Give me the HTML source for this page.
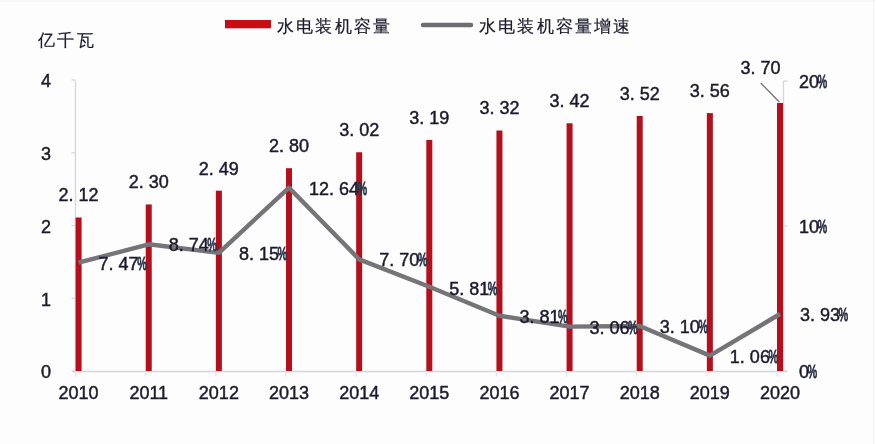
<!DOCTYPE html>
<html><head><meta charset="utf-8"><style>
html,body{margin:0;padding:0;background:#fdfdfe;}
svg{display:block;filter:blur(0.35px);}
.pc{fill:#2a3448;stroke:#2a3448;stroke-width:1px;}
</style></head><body>
<svg width="876" height="444" viewBox="0 0 876 444">
<rect x="0" y="0" width="876" height="444" fill="#fdfdfe"/>
<line x1="0" y1="1" x2="876" y2="1" stroke="#f0f0f2" stroke-width="1"/>
<line x1="873.5" y1="0" x2="873.5" y2="444" stroke="#f4f4f6" stroke-width="1"/>
<line x1="75.5" y1="80.5" x2="75.5" y2="371.5" stroke="#d6d6da" stroke-width="1.3"/>
<line x1="71.5" y1="371.0" x2="75.5" y2="371.0" stroke="#d6d6da" stroke-width="1.3"/>
<line x1="71.5" y1="298.2" x2="75.5" y2="298.2" stroke="#d6d6da" stroke-width="1.3"/>
<line x1="71.5" y1="225.5" x2="75.5" y2="225.5" stroke="#d6d6da" stroke-width="1.3"/>
<line x1="71.5" y1="152.8" x2="75.5" y2="152.8" stroke="#d6d6da" stroke-width="1.3"/>
<line x1="71.5" y1="80.0" x2="75.5" y2="80.0" stroke="#d6d6da" stroke-width="1.3"/>
<line x1="783.5" y1="80.8" x2="783.5" y2="371.5" stroke="#d6d6da" stroke-width="1.3"/>
<line x1="783.5" y1="371.0" x2="787.5" y2="371.0" stroke="#d6d6da" stroke-width="1.3"/>
<line x1="783.5" y1="226.0" x2="787.5" y2="226.0" stroke="#d6d6da" stroke-width="1.3"/>
<line x1="783.5" y1="81.0" x2="787.5" y2="81.0" stroke="#d6d6da" stroke-width="1.3"/>
<line x1="72" y1="371.5" x2="787" y2="371.5" stroke="#d6d6da" stroke-width="1.5"/>
<line x1="75.6" y1="371.5" x2="75.6" y2="376.5" stroke="#e2e2e6" stroke-width="1.2"/>
<line x1="145.7" y1="371.5" x2="145.7" y2="376.5" stroke="#e2e2e6" stroke-width="1.2"/>
<line x1="215.9" y1="371.5" x2="215.9" y2="376.5" stroke="#e2e2e6" stroke-width="1.2"/>
<line x1="286.0" y1="371.5" x2="286.0" y2="376.5" stroke="#e2e2e6" stroke-width="1.2"/>
<line x1="356.2" y1="371.5" x2="356.2" y2="376.5" stroke="#e2e2e6" stroke-width="1.2"/>
<line x1="426.3" y1="371.5" x2="426.3" y2="376.5" stroke="#e2e2e6" stroke-width="1.2"/>
<line x1="496.4" y1="371.5" x2="496.4" y2="376.5" stroke="#e2e2e6" stroke-width="1.2"/>
<line x1="566.6" y1="371.5" x2="566.6" y2="376.5" stroke="#e2e2e6" stroke-width="1.2"/>
<line x1="636.7" y1="371.5" x2="636.7" y2="376.5" stroke="#e2e2e6" stroke-width="1.2"/>
<line x1="706.9" y1="371.5" x2="706.9" y2="376.5" stroke="#e2e2e6" stroke-width="1.2"/>
<line x1="777.0" y1="371.5" x2="777.0" y2="376.5" stroke="#e2e2e6" stroke-width="1.2"/>
<rect x="75.60" y="217.50" width="6.0" height="153.50" fill="#b50f1c"/>
<rect x="145.74" y="204.45" width="6.0" height="166.55" fill="#b50f1c"/>
<rect x="215.88" y="190.67" width="6.0" height="180.33" fill="#b50f1c"/>
<rect x="286.02" y="168.20" width="6.0" height="202.80" fill="#b50f1c"/>
<rect x="356.16" y="152.25" width="6.0" height="218.75" fill="#b50f1c"/>
<rect x="426.30" y="139.92" width="6.0" height="231.08" fill="#b50f1c"/>
<rect x="496.44" y="130.50" width="6.0" height="240.50" fill="#b50f1c"/>
<rect x="566.58" y="123.25" width="6.0" height="247.75" fill="#b50f1c"/>
<rect x="636.72" y="116.00" width="6.0" height="255.00" fill="#b50f1c"/>
<rect x="706.86" y="113.10" width="6.0" height="257.90" fill="#b50f1c"/>
<rect x="777.00" y="102.95" width="6.0" height="268.05" fill="#b50f1c"/>
<polyline points="78.60,262.69 148.74,244.27 218.88,252.82 289.02,187.72 359.16,259.35 429.30,286.75 499.44,315.75 569.58,326.63 639.72,326.05 709.86,355.63 780.00,314.01" fill="none" stroke="#767379" stroke-width="4.4" stroke-linejoin="round"/>
<line x1="760.8" y1="83.1" x2="779.3" y2="102" stroke="#7a7a7e" stroke-width="1.4"/>
<g font-family="Liberation Sans, sans-serif" font-size="18" fill="#1b1a2c" stroke="#1b1a2c" stroke-width="0.45">
<text x="78.60" y="201.40" text-anchor="middle" xml:space="preserve">2. 12</text>
<text x="148.74" y="188.35" text-anchor="middle" xml:space="preserve">2. 30</text>
<text x="218.88" y="174.57" text-anchor="middle" xml:space="preserve">2. 49</text>
<text x="289.02" y="152.10" text-anchor="middle" xml:space="preserve">2. 80</text>
<text x="359.16" y="136.15" text-anchor="middle" xml:space="preserve">3. 02</text>
<text x="429.30" y="123.82" text-anchor="middle" xml:space="preserve">3. 19</text>
<text x="499.44" y="114.40" text-anchor="middle" xml:space="preserve">3. 32</text>
<text x="569.58" y="107.15" text-anchor="middle" xml:space="preserve">3. 42</text>
<text x="639.72" y="99.90" text-anchor="middle" xml:space="preserve">3. 52</text>
<text x="709.86" y="97.00" text-anchor="middle" xml:space="preserve">3. 56</text>
<text x="760.60" y="74.00" text-anchor="middle" xml:space="preserve">3. 70</text>
<text x="98.60" y="269.69" xml:space="preserve">7. 47</text>
<text class="pc" transform="translate(137.13,269.69) scale(0.6,1)">%</text>
<text x="168.74" y="251.27" xml:space="preserve">8. 74</text>
<text class="pc" transform="translate(207.27,251.27) scale(0.6,1)">%</text>
<text x="238.88" y="259.82" xml:space="preserve">8. 15</text>
<text class="pc" transform="translate(277.41,259.82) scale(0.6,1)">%</text>
<text x="309.02" y="194.72" xml:space="preserve">12. 64</text>
<text class="pc" transform="translate(357.56,194.72) scale(0.6,1)">%</text>
<text x="379.16" y="266.35" xml:space="preserve">7. 70</text>
<text class="pc" transform="translate(417.69,266.35) scale(0.6,1)">%</text>
<text x="449.30" y="294.75" xml:space="preserve">5. 81</text>
<text class="pc" transform="translate(487.83,294.75) scale(0.6,1)">%</text>
<text x="519.44" y="322.75" xml:space="preserve">3. 81</text>
<text class="pc" transform="translate(557.97,322.75) scale(0.6,1)">%</text>
<text x="589.58" y="333.63" xml:space="preserve">3. 06</text>
<text class="pc" transform="translate(628.11,333.63) scale(0.6,1)">%</text>
<text x="659.72" y="333.05" xml:space="preserve">3. 10</text>
<text class="pc" transform="translate(698.25,333.05) scale(0.6,1)">%</text>
<text x="729.86" y="362.63" xml:space="preserve">1. 06</text>
<text class="pc" transform="translate(768.39,362.63) scale(0.6,1)">%</text>
<text x="800.00" y="321.01" xml:space="preserve">3. 93</text>
<text class="pc" transform="translate(838.53,321.01) scale(0.6,1)">%</text>
<text x="78.60" y="399" text-anchor="middle">2010</text>
<text x="148.74" y="399" text-anchor="middle">2011</text>
<text x="218.88" y="399" text-anchor="middle">2012</text>
<text x="289.02" y="399" text-anchor="middle">2013</text>
<text x="359.16" y="399" text-anchor="middle">2014</text>
<text x="429.30" y="399" text-anchor="middle">2015</text>
<text x="499.44" y="399" text-anchor="middle">2016</text>
<text x="569.58" y="399" text-anchor="middle">2017</text>
<text x="639.72" y="399" text-anchor="middle">2018</text>
<text x="709.86" y="399" text-anchor="middle">2019</text>
<text x="780.00" y="399" text-anchor="middle">2020</text>
<text x="51" y="378.3" text-anchor="end">0</text>
<text x="51" y="305.6" text-anchor="end">1</text>
<text x="51" y="232.8" text-anchor="end">2</text>
<text x="51" y="160.1" text-anchor="end">3</text>
<text x="51" y="87.3" text-anchor="end">4</text>
<text x="799" y="377.5" xml:space="preserve">0</text>
<text class="pc" transform="translate(807.51,377.50) scale(0.6,1)">%</text>
<text x="799" y="232.5" xml:space="preserve">10</text>
<text class="pc" transform="translate(817.52,232.50) scale(0.6,1)">%</text>
<text x="799" y="87.5" xml:space="preserve">20</text>
<text class="pc" transform="translate(817.52,87.50) scale(0.6,1)">%</text>
</g>
<rect x="225" y="20" width="46" height="8.3" fill="#cc0a14"/>
<line x1="423" y1="25" x2="471" y2="25" stroke="#6e6e72" stroke-width="4.5" stroke-linecap="round"/>
<g font-family="Liberation Sans, sans-serif" font-size="16.5" fill="#1b1a2c" stroke="#1b1a2c" stroke-width="0.2">
<text x="277" y="31.5" letter-spacing="2.2">水电装机容量</text>
<text x="479" y="31.5" letter-spacing="2.2">水电装机容量增速</text>
<text x="37.5" y="45.5" letter-spacing="2.7">亿千瓦</text>
</g>
</svg>
</body></html>
